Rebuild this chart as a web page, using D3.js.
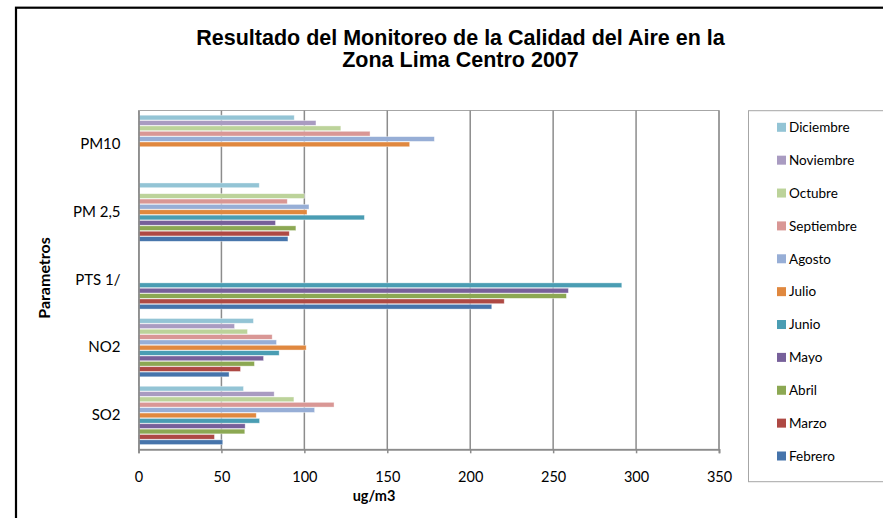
<!DOCTYPE html>
<html>
<head>
<meta charset="utf-8">
<script src="https://cdn.jsdelivr.net/npm/d3@7"></script>
<style>
  body { margin: 0; background: #fff; }
  svg { display: block; }
</style>
</head>
<body>
<div id="chart"></div>
<script>
// ---- DATA ----
const parametros = ["PM10", "PM 2,5", "PTS 1/", "NO2", "SO2"];   // top to bottom
const meses = ["Diciembre", "Noviembre", "Octubre", "Septiembre", "Agosto", "Julio",
               "Junio", "Mayo", "Abril", "Marzo", "Febrero"];          // top to bottom in each group

// values in ug/m3, same order as parametros (null = no data)
const febrero    = [null,  90.1, 213.0,  54.6,  50.8];
const marzo      = [null,  90.9, 220.5,  61.5,  45.8];
const abril      = [null,  94.9, 258.0,  69.9,  64.1];
const mayo       = [null,  82.6, 259.2,  75.4,  64.3];
const junio      = [null, 136.2, 291.4,  84.8,  73.0];
const julio      = [163.5, 101.6, null, 101.1,  71.0];
const agosto     = [178.4, 102.8, null,  83.2, 106.2];
const septiembre = [139.6,  89.7, null,  80.6, 117.9];
const octubre    = [122.0, 100.0, null,  65.7,  93.7];
const noviembre  = [107.0,  null, null,  57.9,  81.8];
const diciembre  = [ 93.9,  72.8, null,  69.3,  63.3];

const xTicks = [0, 50, 100, 150, 200, 250, 300, 350];

const series = {
    Diciembre: diciembre, Noviembre: noviembre, Octubre: octubre,
    Septiembre: septiembre, Agosto: agosto, Julio: julio, Junio: junio,
    Mayo: mayo, Abril: abril, Marzo: marzo, Febrero: febrero
};

const colors = {
    Febrero: "#4674ab", Marzo: "#ae4944", Abril: "#8ca853", Mayo: "#77609a",
    Junio: "#4a9db3", Julio: "#e0883f", Agosto: "#97aed6", Septiembre: "#d99795",
    Octubre: "#bcd39a", Noviembre: "#a99bc1", Diciembre: "#93c4d5"
};

// ---- SVG ----
const W = 883, H = 518;
const svg = d3.select("#chart").append("svg")
    .attr("width", W)
    .attr("height", H);

svg.append("rect").attr("width", W).attr("height", H).attr("fill", "#fff");

// outer chart frame (runs off the right/bottom edge)
svg.append("rect")
    .attr("x", 16).attr("y", 7.7)
    .attr("width", 900).attr("height", 560)
    .attr("fill", "none")
    .attr("stroke", "#000")
    .attr("stroke-width", 2.2);

// ---- TITLE ----
const title = svg.append("text")
    .attr("text-anchor", "middle")
    .style("font-family", "'Liberation Sans', Arial, sans-serif")
    .style("font-weight", "bold")
    .style("font-size", "21.5px")
    .attr("fill", "#000");
title.append("tspan").attr("x", 460.5).attr("y", 45)
    .text("Resultado del Monitoreo de la Calidad del Aire en la");
title.append("tspan").attr("x", 460.5).attr("y", 67)
    .text("Zona Lima Centro 2007");

// ---- SCALES ----
const plot = {left: 138.5, right: 719, top: 110.5, bottom: 449.3};

const x = d3.scaleLinear()
    .domain([0, 350])
    .range([plot.left, plot.right]);

const y = d3.scaleBand()
    .domain(parametros)
    .range([plot.top, plot.bottom])
    .paddingInner(0.13)
    .paddingOuter(0.065);

const yMes = d3.scaleBand()
    .domain(meses)
    .range([0, y.bandwidth()]);

// ---- PLOT FRAME + GRID ----
svg.append("rect")
    .attr("x", plot.left).attr("y", plot.top)
    .attr("width", plot.right - plot.left)
    .attr("height", plot.bottom - plot.top)
    .attr("fill", "none")
    .attr("stroke", "#a6a6a6")
    .attr("stroke-width", 1);

svg.append("g")
    .selectAll("line")
    .data(xTicks.slice(1))
    .join("line")
    .attr("x1", d => x(d)).attr("x2", d => x(d))
    .attr("y1", plot.top).attr("y2", plot.bottom)
    .attr("stroke", "#8c8c8c")
    .attr("stroke-width", 1.5);

// ---- BARS ----
const bars = [];
meses.forEach(m => {
    parametros.forEach((p, i) => {
        if (series[m][i] != null) bars.push({mes: m, param: p, value: series[m][i]});
    });
});

svg.append("g")
    .selectAll("rect")
    .data(bars)
    .join("rect")
    .attr("x", x(0))
    .attr("y", d => y(d.param) + yMes(d.mes) + 0.3)
    .attr("width", d => x(d.value) - x(0))
    .attr("height", yMes.bandwidth() - 0.6)
    .attr("fill", d => colors[d.mes])
    .attr("stroke", "rgba(255,255,255,0.55)")
    .attr("stroke-width", 0.7);

// ---- AXES ----
const xAxis = svg.append("g")
    .attr("transform", `translate(0,${plot.bottom})`)
    .call(d3.axisBottom(x).tickValues(xTicks).tickSize(4).tickPadding(18.5));
xAxis.select(".domain").attr("stroke", "#8c8c8c").attr("stroke-width", 1.8);
xAxis.selectAll(".tick line").attr("stroke", "#8c8c8c").attr("stroke-width", 1.5);
xAxis.selectAll(".tick text")
    .style("font-family", "Lato, 'Open Sans', sans-serif")
    .style("font-size", "14.5px")
    .attr("fill", "#000");

const yAxis = svg.append("g")
    .attr("transform", `translate(${plot.left},0)`)
    .call(d3.axisLeft(y).tickSize(0).tickPadding(18));
yAxis.select(".domain").attr("stroke", "#8c8c8c").attr("stroke-width", 1.8);
yAxis.selectAll(".tick text")
    .style("font-family", "Lato, 'Open Sans', sans-serif")
    .style("font-size", "15px")
    .attr("fill", "#000");

// axis titles
svg.append("text")
    .attr("x", 374).attr("y", 500.5)
    .attr("text-anchor", "middle")
    .style("font-family", "Lato, 'Open Sans', sans-serif")
    .style("font-weight", "bold")
    .style("font-size", "14.5px")
    .text("ug/m3");

svg.append("text")
    .attr("transform", "translate(50,278) rotate(-90)")
    .attr("text-anchor", "middle")
    .style("font-family", "Lato, 'Open Sans', sans-serif")
    .style("font-weight", "bold")
    .style("font-size", "16px")
    .text("Parametros");

// ---- LEGEND ----
svg.append("rect")
    .attr("x", 748.5).attr("y", 110.7)
    .attr("width", 140).attr("height", 371)
    .attr("fill", "#fff")
    .attr("stroke", "#a6a6a6")
    .attr("stroke-width", 1);

const legend = svg.append("g")
    .selectAll("g")
    .data(meses)
    .join("g")
    .attr("transform", (d, i) => `translate(777,${127.3 + i * 32.87})`);

legend.append("rect")
    .attr("x", 0).attr("y", -4.5)
    .attr("width", 9).attr("height", 9)
    .attr("fill", d => colors[d]);

legend.append("text")
    .attr("x", 12).attr("y", 0)
    .attr("dy", "0.35em")
    .style("font-family", "Lato, 'Open Sans', sans-serif")
    .style("font-size", "13.5px")
    .text(d => d);
</script>
</body>
</html>
